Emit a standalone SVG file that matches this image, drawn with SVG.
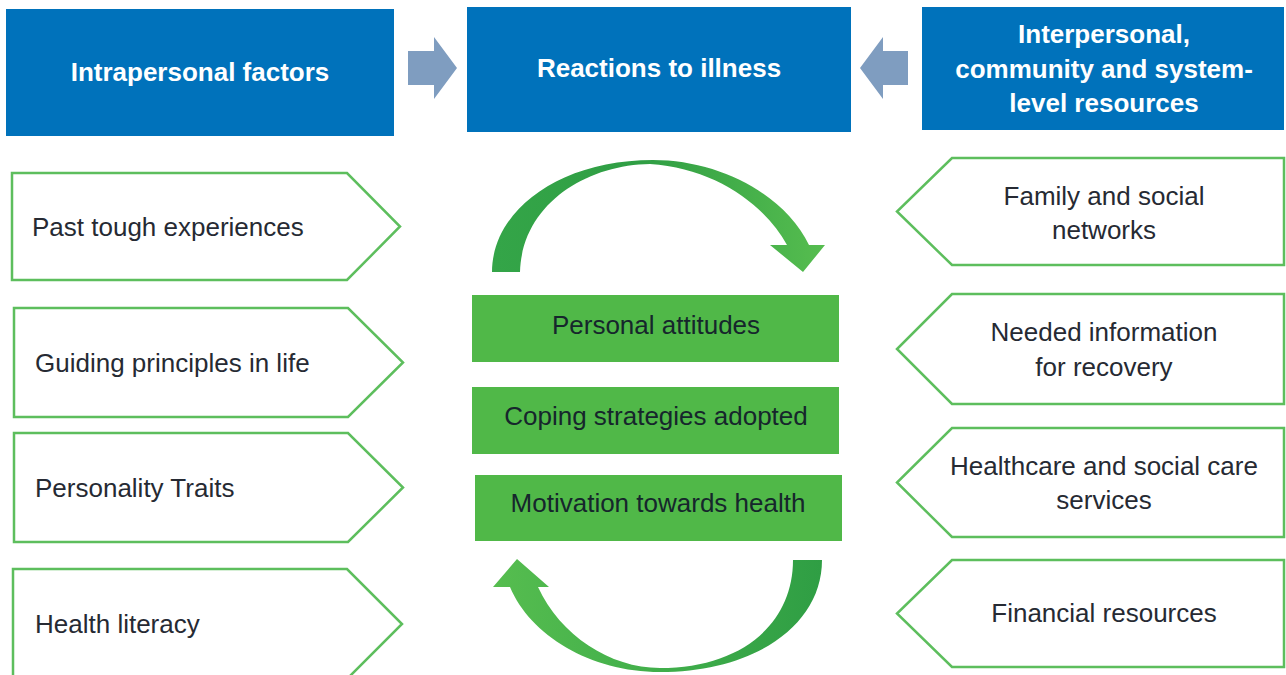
<svg xmlns="http://www.w3.org/2000/svg" width="1286" height="675" viewBox="0 0 1286 675">
  <style>
    .hdr { fill: #0072BB; }
    .hdr-t { font-family: "Liberation Sans", Arial, sans-serif; font-weight: bold; font-size: 26px; fill: #ffffff; text-anchor: middle; }
    .push { fill: #7F9DC0; }
    .tag { fill: #ffffff; stroke: #5DBE5D; stroke-width: 2.5; stroke-linejoin: miter; }
    .tag-t { font-family: "Liberation Sans", Arial, sans-serif; font-size: 26px; fill: #262a33; }
    .mid { text-anchor: middle; }
    .core { fill: #50B848; }
    .core-t { font-family: "Liberation Sans", Arial, sans-serif; font-size: 26px; fill: #16262c; text-anchor: middle; }
  </style>
  <defs>
    <linearGradient id="gTop" x1="0" y1="0" x2="1" y2="0">
      <stop offset="0" stop-color="#34A548"/>
      <stop offset="0.45" stop-color="#2F9E44"/>
      <stop offset="1" stop-color="#56BD4F"/>
    </linearGradient>
    <linearGradient id="gBottom" x1="0" y1="0" x2="1" y2="0">
      <stop offset="0" stop-color="#56BD4F"/>
      <stop offset="0.55" stop-color="#3FAD4A"/>
      <stop offset="1" stop-color="#2F9E44"/>
    </linearGradient>
  </defs>

  <rect width="1286" height="675" fill="#ffffff"/>

  <!-- header row -->
  <g id="intrapersonal">
    <rect class="hdr" x="6" y="9" width="388" height="127"/>
    <text class="hdr-t" x="200" y="81">Intrapersonal factors</text>
  </g>
  <g id="reactions">
    <rect class="hdr" x="467" y="7" width="384" height="125"/>
    <text class="hdr-t" x="659" y="77">Reactions to illness</text>
  </g>
  <g id="resources">
    <rect class="hdr" x="922" y="7" width="362" height="123"/>
    <text class="hdr-t" x="1104" y="43">Interpersonal,</text>
    <text class="hdr-t" x="1104" y="78">community and system-</text>
    <text class="hdr-t" x="1104" y="112">level resources</text>
  </g>

  <!-- connectors -->
  <g id="connectors">
    <path class="push" d="M408,51 H434 V37 L457,68 L434,99 V85 H408 Z"/>
    <path class="push" d="M908,51 H883 V37 L860,68 L883,99 V85 H908 Z"/>
    <path fill="url(#gTop)" d="M492,272 C492,210 560,160 653,160 C720,160 785,195 809,245 L825,245 L803,272 L770,245 L787,245 C765,205 715,168 650,164 C585,165 522,205 520,272 Z"/>
    <path fill="url(#gBottom)" d="M822,560 C822,625 755,672 660,672 C590,672 530,635 510,587 L493,587 L517,559 L549,587 L538,587 C560,635 610,668 660,668 C740,668 793,625 793,560 Z"/>
  </g>

  <!-- intrapersonal factors -->
  <g id="past-experiences">
    <path class="tag" d="M12,173 H347 L400,226.5 L347,280 H12 Z"/>
    <text class="tag-t" x="32" y="236">Past tough experiences</text>
  </g>
  <g id="guiding-principles">
    <path class="tag" d="M14,308 H348 L403,362.5 L348,417 H14 Z"/>
    <text class="tag-t" x="35" y="372">Guiding principles in life</text>
  </g>
  <g id="personality-traits">
    <path class="tag" d="M14,433 H348 L403,487.5 L348,542 H14 Z"/>
    <text class="tag-t" x="35" y="497">Personality Traits</text>
  </g>
  <g id="health-literacy">
    <path class="tag" d="M13,569 H347 L402,624 L347,679 H13 Z"/>
    <text class="tag-t" x="35" y="633">Health literacy</text>
  </g>

  <!-- reactions -->
  <g id="personal-attitudes">
    <rect class="core" x="472" y="295" width="367" height="67"/>
    <text class="core-t" x="656" y="334">Personal attitudes</text>
  </g>
  <g id="coping-strategies">
    <rect class="core" x="472" y="387" width="367" height="67"/>
    <text class="core-t" x="656" y="425">Coping strategies adopted</text>
  </g>
  <g id="motivation">
    <rect class="core" x="475" y="475" width="367" height="66"/>
    <text class="core-t" x="658" y="512">Motivation towards health</text>
  </g>

  <!-- resources -->
  <g id="family-networks">
    <path class="tag" d="M1284,158 H952 L897,211.5 L952,265 H1284 Z"/>
    <text class="tag-t mid" x="1104" y="205">Family and social</text>
    <text class="tag-t mid" x="1104" y="239">networks</text>
  </g>
  <g id="recovery-information">
    <path class="tag" d="M1284,294 H952 L897,349 L952,404 H1284 Z"/>
    <text class="tag-t mid" x="1104" y="341">Needed information</text>
    <text class="tag-t mid" x="1104" y="376">for recovery</text>
  </g>
  <g id="care-services">
    <path class="tag" d="M1284,428 H952 L897,482.5 L952,537 H1284 Z"/>
    <text class="tag-t mid" x="1104" y="475">Healthcare and social care</text>
    <text class="tag-t mid" x="1104" y="509">services</text>
  </g>
  <g id="financial-resources">
    <path class="tag" d="M1284,560 H952 L897,613.5 L952,667 H1284 Z"/>
    <text class="tag-t mid" x="1104" y="622">Financial resources</text>
  </g>
</svg>
